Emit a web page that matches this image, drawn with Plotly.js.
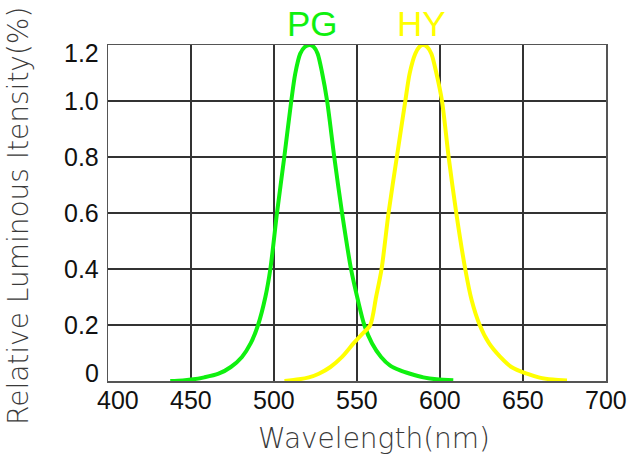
<!DOCTYPE html>
<html>
<head>
<meta charset="utf-8">
<script src="https://cdn.plot.ly/plotly-3.0.1.min.js"></script>
<style>
html,body{margin:0;padding:0;background:#fff;}
#chart{width:628px;height:455px;}
</style>
</head>
<body>
<div id="chart"></div>
<script>
// Wavelength (nm) and relative intensity for PG (green)
const pgWavelength = [437.5, 445, 450, 458, 466.6, 474, 480.7, 486, 490.4, 494.8, 497.8, 501.8, 506.2, 510.4, 512.8, 515.8, 518.5, 521.3, 524, 526.3, 529, 532, 536.3, 541, 546.4, 550.5, 554.4, 559, 564.5, 570, 576, 582, 590, 598, 608];
const pgIntensity  = [0, 0.002, 0.005, 0.013, 0.026, 0.05, 0.086, 0.135, 0.2, 0.3, 0.4, 0.6, 0.8, 1.0, 1.098, 1.169, 1.193, 1.2, 1.193, 1.169, 1.1, 1.0, 0.8, 0.6, 0.4, 0.29, 0.2, 0.135, 0.086, 0.055, 0.038, 0.026, 0.013, 0.006, 0.003];

// Wavelength (nm) and relative intensity for HY (yellow)
const hyWavelength = [506.3, 515, 521, 527, 534, 541, 548, 553.5, 558, 561.5, 564.8, 569, 574, 579.1, 581.7, 585.1, 587.5, 589.7, 592.3, 594.8, 597.8, 601.2, 605.2, 609.8, 615.2, 619, 623.9, 629.5, 636.3, 643, 652.4, 660, 668, 676.5];
const hyIntensity  = [0, 0.006, 0.013, 0.026, 0.05, 0.086, 0.135, 0.17, 0.2, 0.3, 0.4, 0.6, 0.8, 1.0, 1.098, 1.169, 1.193, 1.2, 1.193, 1.169, 1.1, 1.0, 0.8, 0.6, 0.4, 0.29, 0.2, 0.135, 0.086, 0.05, 0.026, 0.012, 0.005, 0.002];

const xTickVals = [400, 450, 500, 550, 600, 650, 700];
const xTickText = ["400", "450", "500", "550", "600", "650", "700"];
const yTickVals = [0, 0.2, 0.4, 0.6, 0.8, 1.0, 1.2];
const yTickText = ["0", "0.2", "0.4", "0.6", "0.8", "1.0", "1.2"];

const seriesNames = ["PG", "HY"];
const seriesLabelX = [523.4, 588.6];
const seriesColors = ["#0ff00f", "#ffff00"];

const tickFont = {family: "Liberation Sans, Arial, sans-serif", size: 25, color: "#111"};
const titleFont = {family: "DejaVu Sans, sans-serif", size: 28, color: "#3a3a3a", weight: 200};

const traces = [
  {x: pgWavelength, y: pgIntensity, name: seriesNames[0], type: "scatter", mode: "lines",
   line: {color: seriesColors[0], width: 4, shape: "spline", smoothing: 0.8}, hoverinfo: "x+y"},
  {x: hyWavelength, y: hyIntensity, name: seriesNames[1], type: "scatter", mode: "lines",
   line: {color: seriesColors[1], width: 4, shape: "spline", smoothing: 0.8}, hoverinfo: "x+y"}
];

// tick labels drawn as annotations so the end labels can be nudged inward like the reference
const xLabelAnn = xTickVals.map((v, i) => ({
  text: xTickText[i], xref: "x", yref: "paper", x: v, y: 0, yshift: -3,
  xshift: i === 0 ? 10 : 0,
  xanchor: "center", yanchor: "top", showarrow: false, font: tickFont
}));
const yLabelAnn = yTickVals.map((v, i) => ({
  text: yTickText[i], xref: "paper", yref: "y", x: 0, y: v, xshift: -7,
  yshift: i === 0 ? 8 : (i === yTickVals.length - 1 ? -8 : 0),
  xanchor: "right", yanchor: "middle", showarrow: false, font: tickFont
}));

const layout = {
  width: 628, height: 455,
  margin: {l: 108, r: 22, t: 45, b: 74},
  paper_bgcolor: "#fff", plot_bgcolor: "#fff",
  showlegend: false,
  xaxis: {
    range: [400, 700], tickmode: "array", tickvals: xTickVals, ticktext: xTickText, showticklabels: false,
    showgrid: true, gridcolor: "#333", gridwidth: 1.2,
    showline: true, mirror: true, linecolor: "#555", linewidth: 1.5,
    zeroline: false, ticks: "", fixedrange: true
  },
  yaxis: {
    range: [0, 1.2], tickmode: "array", tickvals: yTickVals, ticktext: yTickText, showticklabels: false,
    showgrid: true, gridcolor: "#333", gridwidth: 1.2,
    showline: true, mirror: true, linecolor: "#555", linewidth: 1.5,
    zeroline: false, ticks: "", fixedrange: true
  },
  annotations: [
    {text: "Wavelength(nm)", xref: "paper", yref: "paper", x: 0.534, y: 0, yshift: -57,
     xanchor: "center", yanchor: "middle", showarrow: false, font: titleFont},
    {text: "Relative Luminous Itensity(%)", xref: "paper", yref: "paper", x: 0, xshift: -90, y: 0.491,
     xanchor: "center", yanchor: "middle", textangle: -90, showarrow: false, font: titleFont}
  ].concat(xLabelAnn, yLabelAnn, seriesNames.map((n, i) => ({
    text: n, xref: "x", yref: "paper", x: seriesLabelX[i], y: 1, yshift: 22,
    xanchor: "center", yanchor: "middle", showarrow: false,
    font: {family: "Liberation Sans, Arial, sans-serif", size: 35, color: seriesColors[i]}
  })))
};

Plotly.newPlot("chart", traces, layout, {displayModeBar: false, staticPlot: true});
</script>
</body>
</html>
